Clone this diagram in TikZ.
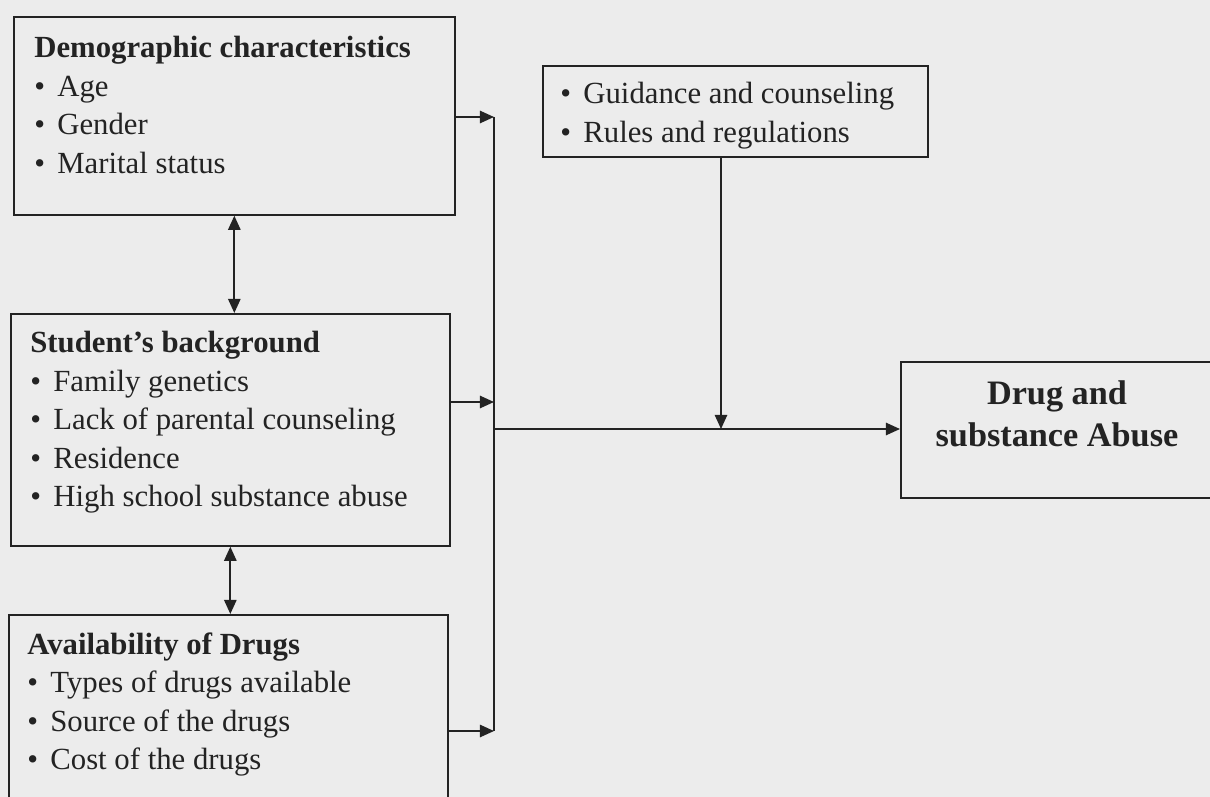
\documentclass[tikz,border=0pt]{standalone}
\usepackage{fontspec}
\setmainfont{Liberation Serif}
\usetikzlibrary{arrows.meta, positioning, calc}
\definecolor{paper}{RGB}{236,236,236}
\definecolor{ink}{RGB}{35,35,35}
\newcommand{\itm}{\textbullet\hspace{0.4em}}

\begin{document}
\begin{tikzpicture}[x=0.02cm, y=-0.02cm,
        box/.style={draw=ink, line width=1pt, anchor=north west, inner sep=0pt},
        txt/.style={anchor=north west, align=left, inner sep=0pt, text=ink},
        link/.style={draw=ink, line width=1pt, -{Triangle[length=8pt, width=7pt]}},
        both/.style={link, {Triangle[length=8pt, width=7pt]}-{Triangle[length=8pt, width=7pt]}},
        font=\fontsize{17.5}{21.9}\selectfont
    ]
        % page
        \useasboundingbox (0,0) rectangle (1210,797);
        \fill[paper] (0,0) rectangle (1210,797);
        \clip (0,0) rectangle (1210,797);

        % Factor boxes
        \node[box, minimum width=8.82cm, minimum height=3.96cm] (demo) at (13,16) {};
        \node[box, minimum width=8.78cm, minimum height=4.64cm] (stud) at (10,313) {};
        \node[box, minimum width=8.78cm, minimum height=4.2cm] (avail) at (8,614) {};
        \node[box, minimum width=7.7cm, minimum height=1.82cm] (guide) at (542,65) {};
        \node[box, minimum width=6.6cm, minimum height=2.72cm] (drug) at (900,361) {};

        % Box texts
        \node[txt] (demotxt) at (34,36.2) {\textbf{Demographic characteristics}\\ \itm Age\\ \itm Gender\\ \itm Marital status};
        \node[txt] (studtxt) at (30,331.2) {\textbf{Student’s background}\\ \itm Family genetics\\ \itm Lack of parental counseling\\ \itm Residence\\ \itm High school substance abuse};
        \node[txt] (availtxt) at (27,632.2) {\textbf{Availability of Drugs}\\ \itm Types of drugs available\\ \itm Source of the drugs\\ \itm Cost of the drugs};
        \node[txt] (guidetxt) at (560,82.2) {\itm Guidance and counseling\\ \itm Rules and regulations};
        \node[txt, anchor=north, align=center, font=\bfseries\fontsize{19.5}{24.3}\selectfont] (drugtxt) at (1057,380) {Drug and\\ substance Abuse};

        % Junction points
        \coordinate (jdemo) at (494,117);
        \coordinate (jstud) at (494,402);
        \coordinate (javail) at (494,731);
        \coordinate (jmain) at (494,429);
        \coordinate (jguide) at (721,429);

        % Arrows
        \draw[link] (demo.east |- jdemo) -- (jdemo);
        \draw[link] (stud.east |- jstud) -- (jstud);
        \draw[link] (avail.east |- javail) -- (javail);
        \draw[draw=ink, line width=1pt] (jdemo) -- (javail);
        \draw[link] (jmain) -- (drug.west |- jmain);
        \draw[link] (guide.south -| jguide) -- (jguide);
        \draw[both] (demo.south) -- (demo.south |- stud.north);
        \draw[both] (stud.south) -- (stud.south |- avail.north);
    \end{tikzpicture}
\end{document}
